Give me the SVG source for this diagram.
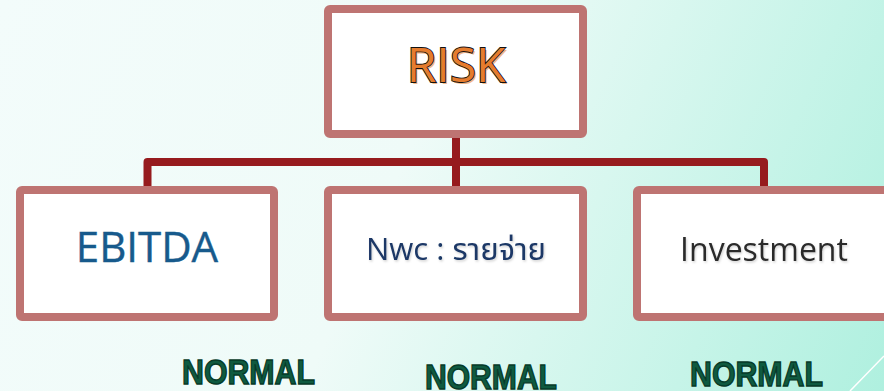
<svg xmlns="http://www.w3.org/2000/svg" width="884" height="391" viewBox="0 0 884 391">
<defs>
<linearGradient id="bg" x1="0" y1="0" x2="884" y2="391" gradientUnits="userSpaceOnUse">
<stop offset="0" stop-color="#f3fcfb"/>
<stop offset="0.45" stop-color="#effbf8"/>
<stop offset="1" stop-color="#aff0df"/>
</linearGradient>
<filter id="sh" x="-10%" y="-20%" width="120%" height="140%">
<feDropShadow dx="1" dy="1.5" stdDeviation="1" flood-color="#000" flood-opacity="0.18"/>
</filter>
</defs>
<style>
.box{fill:#ffffff;stroke:#be7472;stroke-width:8;}
.conn{fill:none;stroke:#961b1e;stroke-width:8;stroke-linejoin:round;}
.lbl{font-family:"Open Sans","Noto Sans","Noto Sans Thai","DejaVu Sans",sans-serif;text-anchor:middle;}
.norm{font-family:"Liberation Sans",Arial,sans-serif;font-weight:bold;font-size:35px;fill:#0f5a40;stroke:#063a28;stroke-width:1.4;}
</style>
<rect width="884" height="391" fill="url(#bg)"/>
<line x1="850" y1="391" x2="884" y2="356" stroke="#ffffff" stroke-width="1.5"/>
<g id="connectors">
<path class="conn" d="M456 138 V162"/>
<path class="conn" d="M147.5 188 V162 H764 V188"/>
<path class="conn" d="M456 162 V188"/>
</g>
<g id="risk">
<rect class="box" x="328" y="9" width="255" height="125" rx="2"/>
<text class="lbl" x="458" y="84" font-size="48" fill="#f2b78a">RISK</text>
<text class="lbl" x="456" y="82" font-size="48" fill="#e57c2e" stroke="#111" stroke-width="1.8" paint-order="stroke">RISK</text>
</g>
<g id="ebitda">
<rect class="box" x="20" y="190" width="254" height="127" rx="2"/>
<text class="lbl" x="147" y="262" font-size="42" fill="#175a8c" stroke="#175a8c" stroke-width="0.4">EBITDA</text>
</g>
<g id="nwc">
<rect class="box" x="328" y="190" width="255" height="127" rx="2"/>
<text class="lbl" x="456" y="260" font-size="31" fill="#1b3766" filter="url(#sh)">Nwc : รายจ่าย</text>
</g>
<g id="investment">
<rect class="box" x="637" y="190" width="260" height="127" rx="2"/>
<text class="lbl" x="764" y="261" font-size="32" fill="#2b2b2b" filter="url(#sh)">Investment</text>
</g>
<g id="normals">
<text class="norm" x="182" y="384" textLength="133" lengthAdjust="spacingAndGlyphs">NORMAL</text>
<text class="norm" x="425" y="389" textLength="132" lengthAdjust="spacingAndGlyphs">NORMAL</text>
<text class="norm" x="690" y="386" textLength="133" lengthAdjust="spacingAndGlyphs">NORMAL</text>
</g>
</svg>
